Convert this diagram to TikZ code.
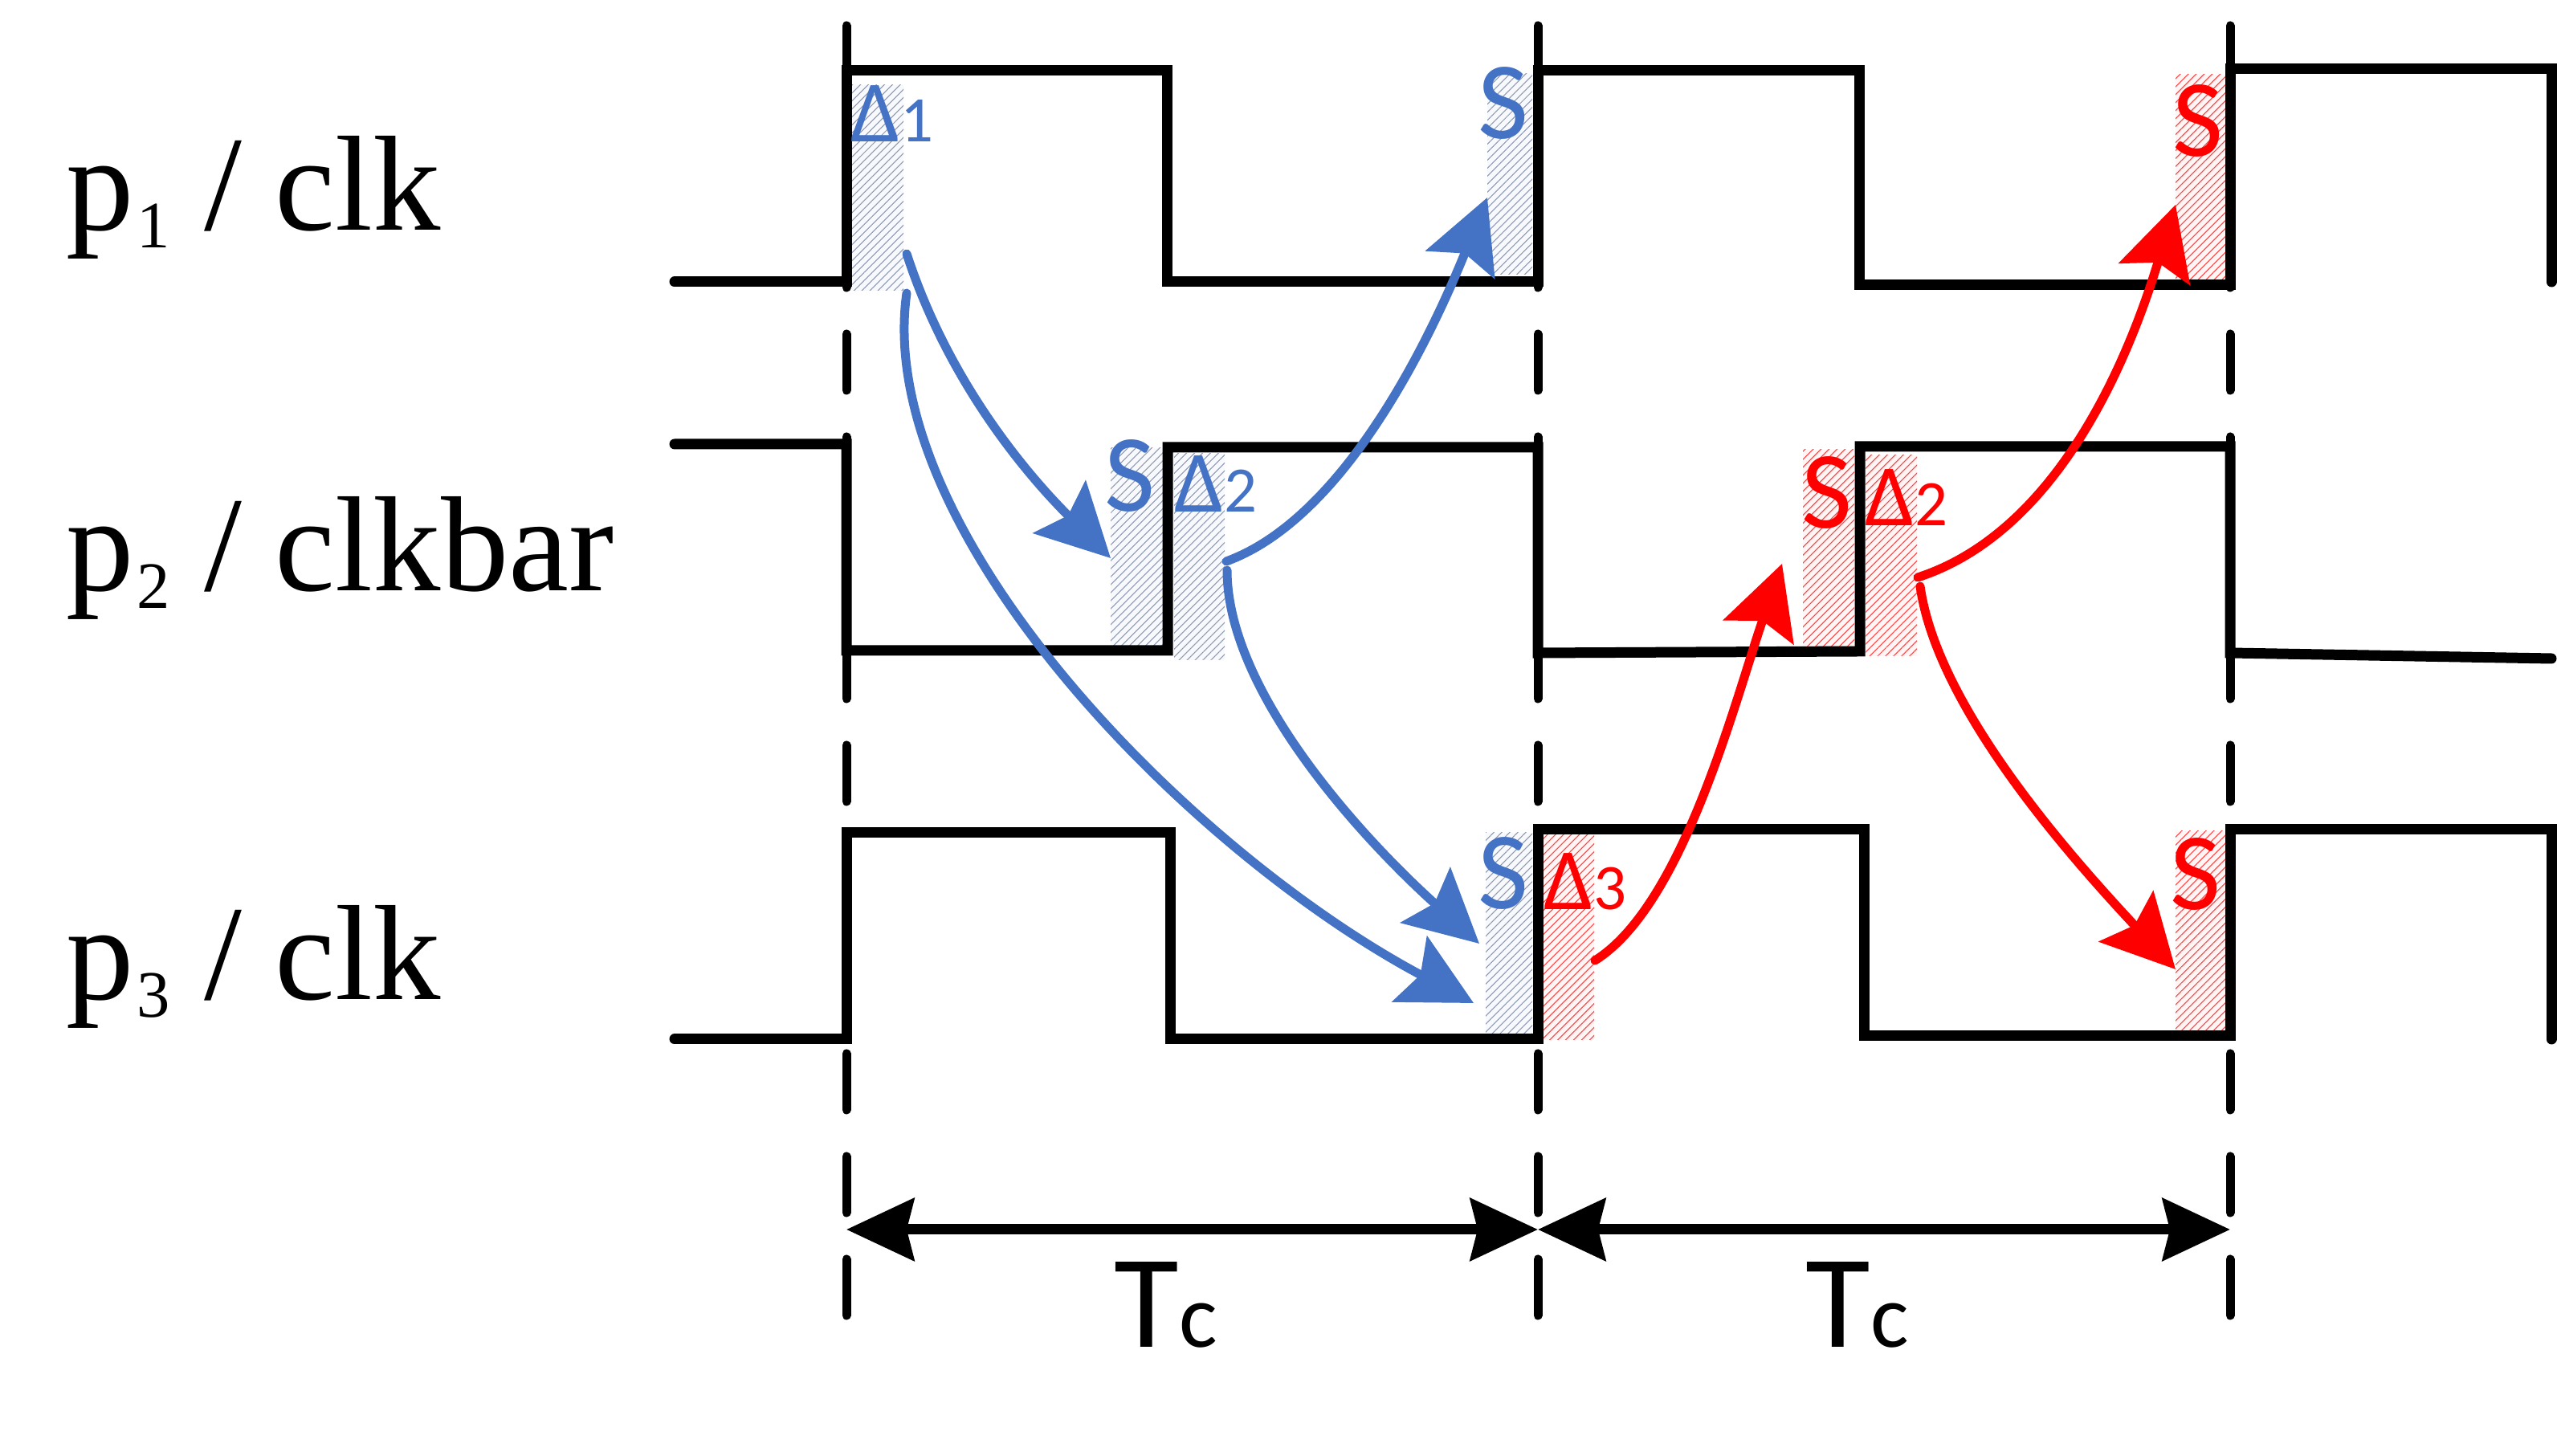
\documentclass[tikz,border=0pt]{standalone}
\usepackage{fontspec}
\setmainfont{Liberation Serif}
\newfontfamily\calib{Carlito}
\usepackage{tikz}
\usetikzlibrary{arrows.meta,patterns.meta}
\definecolor{sblue}{RGB}{68,114,196}
\definecolor{sred}{RGB}{255,0,0}
\definecolor{hgray}{RGB}{140,152,178}
\newcommand{\psub}[1]{p\kern1pt\raisebox{-0.22cm}{\fontsize{23.5}{24}\selectfont #1}}
\newcommand{\dsub}[1]{{\fontsize{31}{31}\selectfont Δ}{\fontsize{23}{23}\selectfont #1}}
\newcommand{\tcl}{{\fontsize{47}{47}\selectfont T}{\fontsize{32}{32}\selectfont c}}

\begin{document}
\begin{tikzpicture}[line cap=round,
  wave/.style={line width=0.13cm,line join=miter},
  guide/.style={line width=0.11cm,dash pattern=on 0.7cm off 0.58cm},
  hboxb/.style={inner sep=0,outer sep=0,anchor=south west,preaction={fill=sblue!4},
    pattern={Lines[angle=45,distance=2pt,line width=0.3pt]},pattern color=hgray},
  hboxr/.style={inner sep=0,outer sep=0,anchor=south west,preaction={fill=sred!4},
    pattern={Lines[angle=45,distance=2pt,line width=0.3pt]},pattern color=sred!75},
  slab/.style={inner sep=0,anchor=base west,font=\calib\fontsize{39}{39}\selectfont},
  dlab/.style={inner sep=0,anchor=base west,font=\calib},
  plab/.style={inner sep=0,anchor=base west,font=\fontsize{48}{56}\selectfont},
  barrow/.style={sblue,line width=0.11cm,-{Stealth[length=0.9cm,width=0.92cm,inset=0.15cm]}},
  rarrow/.style={barrow,sred},
  tarrow/.style={line width=0.13cm,{Stealth[length=0.84cm,width=0.77cm,inset=0.09cm]}-{Stealth[length=0.84cm,width=0.77cm,inset=0.09cm]}}]
  \useasboundingbox (0,0) rectangle (31.89,18.13);
  \foreach \x/\n in {10.54/1,19.15/2,27.77/3}{
    \coordinate (top\n) at (\x,17.81);
    \coordinate (bot\n) at (\x,1.75);
    \coordinate (per\n) at (\x,2.82);
    \draw[guide] (top\n) -- (bot\n);
  }
  \node[hboxb,minimum width=0.65cm,minimum height=2.56cm] (d1b) at (10.60,14.51) {};
  \node[hboxb,minimum width=0.56cm,minimum height=2.50cm] (s1b) at (18.52,14.71) {};
  \node[hboxb,minimum width=0.65cm,minimum height=2.47cm] (s2b) at (13.83,10.08) {};
  \node[hboxb,minimum width=0.63cm,minimum height=2.57cm] (d2b) at (14.62,9.91) {};
  \node[hboxb,minimum width=0.58cm,minimum height=2.56cm] (s3b) at (18.50,5.20) {};
  \node[hboxr,minimum width=0.65cm,minimum height=2.55cm] (d3r) at (19.20,5.18) {};
  \node[hboxr,minimum width=0.64cm,minimum height=2.45cm] (s2r) at (22.45,10.08) {};
  \node[hboxr,minimum width=0.64cm,minimum height=2.50cm] (d2r) at (23.23,9.96) {};
  \node[hboxr,minimum width=0.64cm,minimum height=2.55cm] (s1r) at (27.09,14.65) {};
  \node[hboxr,minimum width=0.64cm,minimum height=2.60cm] (s3r) at (27.09,5.18) {};
  \draw[wave] (8.40,14.62) -- (10.54,14.62) -- (10.54,17.25) -- (14.53,17.25) -- (14.53,14.62)
    -- (19.15,14.62) -- (19.15,17.25) -- (23.15,17.25) -- (23.15,14.58) -- (27.77,14.58)
    -- (27.77,17.27) -- (31.77,17.27) -- (31.77,14.62);
  \draw[wave] (8.40,12.60) -- (10.54,12.60) -- (10.54,10.03) -- (14.54,10.03) -- (14.54,12.56)
    -- (19.15,12.56) -- (19.15,10.00) -- (23.16,10.02) -- (23.16,12.57) -- (27.77,12.57)
    -- (27.77,10.00) -- (31.77,9.93);
  \draw[wave] (8.40,5.19) -- (10.54,5.19) -- (10.54,7.76) -- (14.57,7.76) -- (14.57,5.19)
    -- (19.15,5.19) -- (19.15,7.80) -- (23.21,7.80) -- (23.21,5.23) -- (27.77,5.23)
    -- (27.77,7.80) -- (31.77,7.80) -- (31.77,5.19);
  \node[plab] (lp1) at (0.82,15.26) {\psub{1} / clk};
  \node[plab] (lp2) at (0.82,10.77) {\psub{2} / clkbar};
  \node[plab] (lp3) at (0.82,5.68) {\psub{3} / clk};
  \node[slab,sblue] (ls1b) at (18.40,16.40) {S};
  \node[slab,sblue] (ls2b) at (13.75,11.76) {S};
  \node[slab,sblue] (ls3b) at (18.40,6.81) {S};
  \node[dlab,sblue] (ld1b) at (10.59,16.36) {\dsub{1}};
  \node[dlab,sblue] (ld2b) at (14.62,11.75) {\dsub{2}};
  \node[slab,sred] (ls1r) at (27.05,16.18) {S};
  \node[slab,sred] (ls2r) at (22.43,11.55) {S};
  \node[slab,sred] (ls3r) at (27.02,6.80) {S};
  \node[dlab,sred] (ld3r) at (19.22,6.80) {\dsub{3}};
  \node[dlab,sred] (ld2r) at (23.22,11.58) {\dsub{2}};
  \draw[tarrow] (per1) -- (per2);
  \draw[tarrow] (per2) -- (per3);
  \node[dlab] (tc1) at (13.87,1.35) {\tcl};
  \node[dlab] (tc2) at (22.48,1.35) {\tcl};
  \draw[barrow] ([xshift=0.4mm,yshift=4.6mm]d1b.south east) .. controls +(-72:1.6) and +(135:1.6) .. ([yshift=11mm]s2b.south west);
  \draw[barrow] ([xshift=0.4mm,yshift=-0.3mm]d1b.south east) .. controls +(-98:3) and +(152:4) .. ([xshift=-1.5mm,yshift=4.4mm]s3b.south west);
  \draw[barrow] ([xshift=0.2mm,yshift=12.3mm]d2b.south east) .. controls +(20:1.6) and +(248:1.8) .. ([yshift=9.6mm]s1b.south west);
  \draw[barrow] ([xshift=0.3mm,yshift=11.2mm]d2b.south east) .. controls +(-90:1.5) and +(138:2) .. ([xshift=-0.8mm,yshift=11.8mm]s3b.south west);
  \draw[rarrow] ([xshift=0.1mm,yshift=9.9mm]d3r.south east) .. controls +(32:1.3) and +(251:1.8) .. ([xshift=-2.6mm,yshift=10.3mm]s2r.south west);
  \draw[rarrow] ([xshift=0.1mm,yshift=9.8mm]d2r.south east) .. controls +(18:2) and +(253:1.6) .. ([yshift=9.3mm]s1r.south west);
  \draw[rarrow] ([xshift=0.4mm,yshift=8.7mm]d2r.south east) .. controls +(-82:1.5) and +(133:2) .. ([yshift=8.8mm]s3r.south west);
\end{tikzpicture}
\end{document}
